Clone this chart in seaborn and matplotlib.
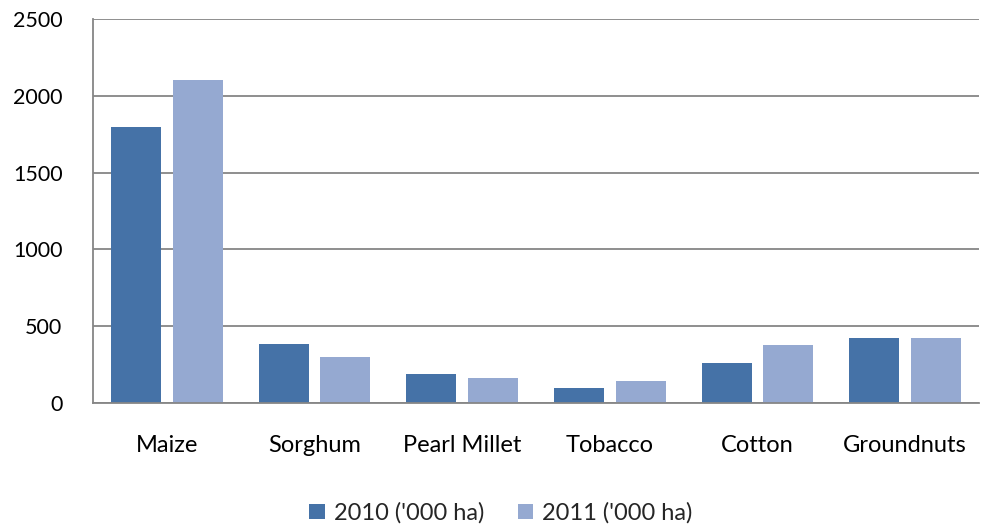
import matplotlib
matplotlib.use("Agg")
import matplotlib.pyplot as plt
import seaborn as sns
import pandas as pd

crops = ["Maize", "Sorghum", "Pearl Millet", "Tobacco", "Cotton", "Groundnuts"]
area_2010 = [1800, 385, 190, 95, 260, 420]
area_2011 = [2100, 300, 160, 145, 375, 425]
series_names = ["2010 ('000 ha)", "2011 ('000 ha)"]
y_ticks = [0, 500, 1000, 1500, 2000, 2500]

df = pd.DataFrame({
    "crop": crops * 2,
    "area": area_2010 + area_2011,
    "year": [series_names[0]] * len(crops) + [series_names[1]] * len(crops),
})

sns.set_theme(style="white")
plt.rcParams["font.family"] = ["Lato", "DejaVu Sans"]

fig = plt.figure(figsize=(9.84, 5.26), dpi=100)
ax = fig.add_axes([93 / 984, 1 - 403 / 526, (979 - 93) / 984, (403 - 19) / 526])

palette = {series_names[0]: "#4572a7", series_names[1]: "#95a9d1"}
sns.barplot(data=df, x="crop", y="area", hue="year", order=crops,
            hue_order=series_names, palette=palette, width=0.838, gap=0.193,
            saturation=1, linewidth=0, ax=ax)

ax.set_ylim(0, 2500)
ax.set_yticks(y_ticks)
ax.set_xlim(-0.5, len(crops) - 0.5)
ax.yaxis.grid(True, color="#868686", linewidth=1.3)
ax.set_axisbelow(True)
for side in ["top", "right"]:
    ax.spines[side].set_visible(False)
ax.spines["left"].set_color("#868686")
ax.spines["left"].set_linewidth(1.3)
ax.spines["bottom"].set_color("#868686")
ax.spines["bottom"].set_linewidth(1.3)
ax.tick_params(axis="y", length=0, pad=22, labelsize=15.5, colors="#000000")
ax.tick_params(axis="x", length=0, pad=23, labelsize=17, colors="#000000")
for lbl in ax.get_yticklabels():
    lbl.set_horizontalalignment("right")
ax.set_xlabel("")
ax.set_ylabel("")

handles, labels = ax.get_legend_handles_labels()
ax.legend_.remove()
fig.legend(handles, labels, loc="center", bbox_to_anchor=(501 / 984, 1 - 513 / 526),
           ncol=2, frameon=False, fontsize=17, handlelength=0.65, handleheight=0.65,
           handletextpad=0.4, columnspacing=1.4, borderpad=0)

fig.savefig("out.png", dpi=100, facecolor="white")
